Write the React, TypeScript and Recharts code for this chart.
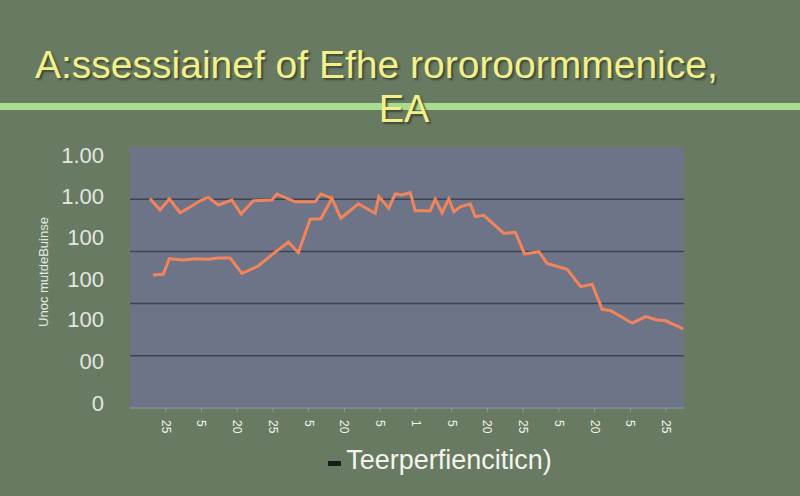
import { LineChart, Line, XAxis, YAxis, CartesianGrid } from "recharts"

// upper series (ends where it meets the rising one)
const seriesAX = [5.6, 8.4, 11, 14, 17.3, 19.6, 21.9, 24.7, 28.5, 31.1, 34.5, 39.7, 41.1, 46.2, 51.8, 53.4, 56.5]
const seriesAY = [80.3, 75.9, 80.1, 74.8, 77.4, 79.4, 80.7, 77.8, 79.7, 74.3, 79.4, 79.7, 82, 79, 79, 82, 80.3]

// lower series, rises then runs on to the end
const seriesBX = [
  6.4, 9.3, 11, 14.9, 18.2, 21.9, 24.7, 28, 31.3, 35.9, 39.2, 44.3, 47.1, 50.4, 53.4, 56.5, 59, 63.9, 68.6, 69.6,
  72.4, 74.2, 76.1, 78.4, 79.8, 84, 85.4, 87.3, 89.2, 90.6, 92.4, 95.2, 96.6, 99, 104.6, 107.8, 110.4, 114.4,
  116.7, 122.3, 126.1, 129.3, 132.1, 134.5, 140.5, 144.3, 147.5, 149.9, 151.7, 154.8,
]
const seriesBY = [
  51, 51.2, 57.2, 56.7, 57.2, 57, 57.5, 57.5, 51.6, 54.4, 58.2, 63.6, 59.5, 72.3, 72.5, 80.3, 72.7, 78.2, 74.6, 81,
  76.5, 82, 81.6, 82.5, 75.6, 75.6, 80, 74.8, 80.1, 75.2, 77.1, 78.2, 73.3, 73.8, 66.9, 67.3, 59, 59.9, 55.4,
  53.1, 46.5, 47.4, 37.8, 37.3, 32.5, 35, 33.7, 33.4, 32.2, 30.3,
]

// y tick labels don't sit on the grid lines in the original
const yTicks = [2, 18, 34, 49.5, 65.5, 81, 97]
const yLabels = ["0", "00", "100", "100", "100", "1.00", "1.00"]
const gridValues = [20, 40, 60, 80]
const xTicks = [10, 20, 30, 40, 50, 60, 70, 80, 90, 100, 110, 120, 130, 140, 150]
const xLabels = ["25", "5", "20", "25", "5", "20", "5", "1", "5", "20", "25", "5", "20", "5", "25"]

const seriesA = seriesAX.map((x, i) => ({ x, y: seriesAY[i] }))
const seriesB = seriesBX.map((x, i) => ({ x, y: seriesBY[i] }))

const font = "'Liberation Sans', Arial, sans-serif"
const lineColor = "#f2845c"
const titleColor = "#f3f08c"

function XTick(props: any) {
  const { x, y, payload } = props
  const idx = xTicks.indexOf(payload.value)
  return (
    <text
      x={x}
      y={y}
      transform={`rotate(90 ${x} ${y})`}
      dx={6}
      dy={4}
      fill="#f4f4ee"
      fontSize={12}
      fontFamily={font}
    >
      {xLabels[idx]}
    </text>
  )
}

export default function App() {
  return (
    <div style={{ position: "absolute", left: 0, top: 0, width: 800, height: 496, background: "#687a62", overflow: "hidden" }}>
      <div style={{ position: "absolute", left: 0, top: 103, width: 800, height: 7, background: "#a9dc8e" }} />
      <div
        style={{
          position: "absolute",
          left: 35,
          top: 43,
          fontFamily: font,
          fontSize: 39,
          color: titleColor,
          textShadow: "2px 2px 2px #3c4a36",
          whiteSpace: "nowrap",
        }}
      >
        A:ssessiainef of Efhe rororoormmenice,
      </div>
      <div
        style={{
          position: "absolute",
          left: 0,
          width: 800,
          top: 88,
          textAlign: "center",
          paddingLeft: 4,
          fontFamily: font,
          fontSize: 38,
          color: titleColor,
          textShadow: "2px 2px 2px #3c4a36",
        }}
      >
        EA
      </div>
      <div
        style={{
          position: "absolute",
          left: 43,
          top: 272,
          transform: "translate(-50%, -50%) rotate(-90deg)",
          fontFamily: font,
          fontSize: 13,
          color: "#e6e9e2",
          whiteSpace: "nowrap",
        }}
      >
        Unoc mutdeBuinse
      </div>
      <div
        style={{
          position: "absolute",
          left: 0,
          width: 800,
          boxSizing: "border-box",
          top: 445,
          display: "flex",
          alignItems: "center",
          justifyContent: "center",
          paddingLeft: 80,
          fontFamily: font,
        }}
      >
        <span style={{ width: 13, height: 5, background: "#1a1a1a", marginRight: 5, marginTop: 6 }} />
        <span style={{ color: "#f4f4ee", fontSize: 27 }}>Teerperfiencitiсn)</span>
      </div>
      <LineChart
        width={800}
        height={496}
        margin={{ top: 147, right: 116, bottom: 48, left: 70 }}
        style={{ position: "absolute", left: 0, top: 0 }}
      >
        <CartesianGrid
          vertical={false}
          horizontalValues={gridValues}
          fill="#6d7487"
          stroke="#3e4350"
          strokeWidth={1.5}
        />
        <XAxis
          dataKey="x"
          type="number"
          domain={[0, 155]}
          ticks={xTicks}
          allowDuplicatedCategory={false}
          height={40}
          stroke="#9097a8"
          tickSize={4}
          tick={<XTick />}
        />
        <YAxis
          type="number"
          domain={[0, 100]}
          ticks={yTicks}
          tickFormatter={(v: number) => yLabels[yTicks.indexOf(v)]}
          axisLine={false}
          tickLine={false}
          tickMargin={20}
          width={60}
          tick={{ fill: "#e4e7e0", fontSize: 22, fontFamily: font }}
        />
        <Line
          data={seriesA}
          dataKey="y"
          type="linear"
          stroke={lineColor}
          strokeWidth={3}
          dot={false}
          isAnimationActive={false}
        />
        <Line
          data={seriesB}
          dataKey="y"
          type="linear"
          stroke={lineColor}
          strokeWidth={3}
          dot={false}
          isAnimationActive={false}
        />
      </LineChart>
    </div>
  )
}
